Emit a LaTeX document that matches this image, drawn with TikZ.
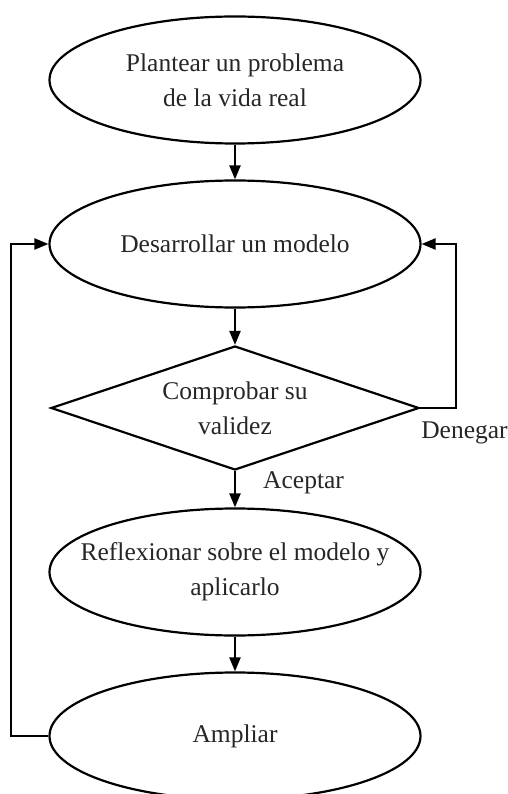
\documentclass[tikz,border=0pt]{standalone}
\usepackage{fontspec}
\setmainfont{Liberation Serif}
\usetikzlibrary{shapes.geometric,arrows.meta}

\begin{document}
\begin{tikzpicture}[
                    x=1pt, y=1pt,
                    node distance=164pt,
                    every node/.style={
                        align=center,
                        text=black!85,
                        font=\fontsize{25.5}{35}\selectfont
                    },
                    elipse/.style={ellipse, draw, line width=2.2pt, minimum width=371pt, minimum height=127pt, inner xsep=-30pt, inner ysep=0pt},
                    rombo/.style={diamond, aspect=3, draw, line width=2.2pt, minimum width=368pt, minimum height=124pt, inner sep=0pt},
                    etiqueta/.style={inner sep=0pt, anchor=west},
                    flecha/.style={-{Triangle[length=14pt,width=11pt]}, line width=2.2pt}
                ]
                    \useasboundingbox (-235,80) rectangle (272,-714);

                    \node[elipse] (plantear) {Plantear un problema\\de la vida real};
                    \node[elipse] (desarrollar) [below of=plantear] {Desarrollar un modelo};
                    \node[rombo] (comprobar) [below of=desarrollar] {Comprobar su\\validez};
                    \node[elipse] (reflexionar) [below of=comprobar] {Reflexionar sobre el modelo y\\aplicarlo};
                    \node[elipse] (ampliar) [below of=reflexionar] {Ampliar};

                    \node[etiqueta] (aceptar) at ([xshift=28pt,yshift=-12pt]comprobar.south) {Aceptar};
                    \node[etiqueta] (denegar) at ([xshift=1pt,yshift=-25pt]comprobar.east) {Denegar};

                    % Edges
                    \draw[flecha] (plantear) -- (desarrollar);
                    \draw[flecha] (desarrollar) -- (comprobar);
                    \draw[flecha] (comprobar) -- (reflexionar);
                    \draw[flecha] (reflexionar) -- (ampliar);
                    \draw[flecha] (comprobar.east) -- ++(36,0) |- (desarrollar.east);
                    \draw[flecha] (ampliar.west) -- ++(-37,0) |- (desarrollar.west);
                \end{tikzpicture}
\end{document}
